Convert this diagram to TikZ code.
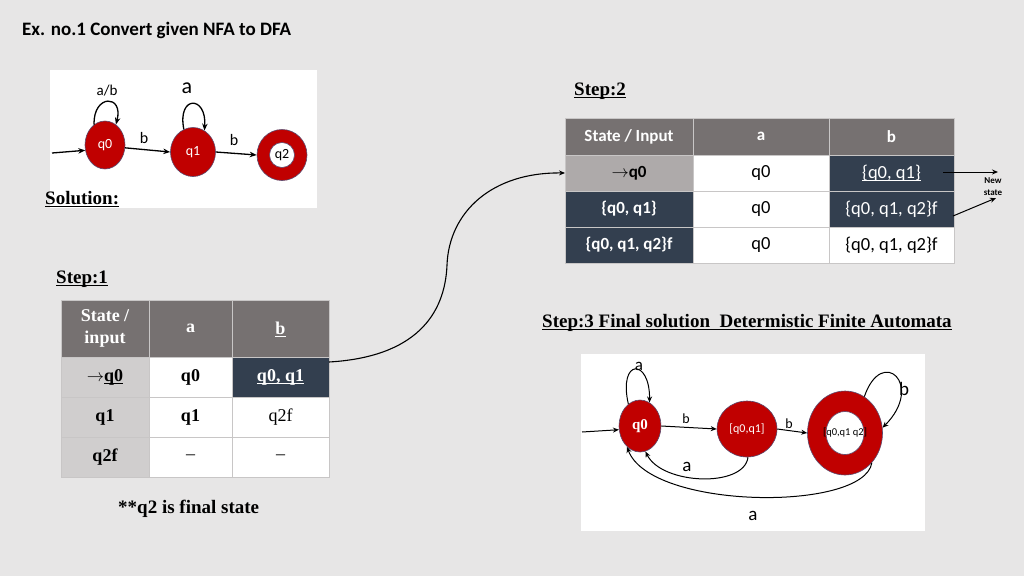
\documentclass[tikz,border=0pt]{standalone}
\usepackage{fontspec}
\setmainfont{Liberation Serif}
\newfontfamily\calfont{Carlito}
\usetikzlibrary{arrows.meta,shapes.geometric}
% thick underline that does not change the text box
\newcommand{\uln}[1]{\leavevmode\setbox0\hbox{#1}\rlap{\smash{\rule[-2.8pt]{\wd0}{1.1pt}}}\box0}
\definecolor{bgc}{HTML}{E7E6E6}
\definecolor{hdr}{HTML}{767171}
\definecolor{lgr}{HTML}{D0CECE}
\definecolor{mgr}{HTML}{AEAAAA}
\definecolor{navy}{HTML}{333F4F}
\definecolor{stred}{HTML}{C00000}
\definecolor{rim}{HTML}{5B4A6E}
\definecolor{gridc}{HTML}{C8C6C6}
\begin{document}
\begin{tikzpicture}[x=1pt,y=-1pt,
  cellbox/.style={draw=gridc, line width=0.8pt, inner sep=0pt, outer sep=0pt, align=center, fill=white},
  sercell/.style={cellbox, font=\fontsize{18}{22}\selectfont\bfseries},
  calcell/.style={cellbox, font=\calfont\fontsize{18.5}{21}\selectfont},
  calbold/.style={calcell, font=\calfont\bfseries\fontsize{17}{20}\selectfont},
  heading/.style={anchor=base west, inner sep=0pt, font=\fontsize{19}{22}\selectfont\bfseries},
  arr/.style={-{Stealth[length=7pt,width=5.5pt]}, line width=1.3pt},
  thinarr/.style={-{Stealth[length=6pt,width=5pt]}, line width=1pt},
  nst/.style={ellipse, fill=stred, draw=rim, line width=0.6pt, inner sep=0pt, text=white, font=\calfont\fontsize{14}{16}\selectfont},
  hole/.style={ellipse, fill=white, draw=rim, line width=0.6pt, inner sep=0pt},
  elab/.style={font=\calfont\fontsize{16}{18}\selectfont, inner sep=0pt}
]
% page background
\path[fill=bgc] (0,0) rectangle (1024,576);
\useasboundingbox (0,0) rectangle (1024,576);

% title
\node[anchor=base west, font=\calfont\bfseries\fontsize{19}{22}\selectfont, inner sep=0pt] (title) at (22,35) {Ex. no.1 Convert given NFA to DFA};

% ---------- given NFA ----------
\node[fill=white, minimum width=267pt, minimum height=138pt, inner sep=0pt, anchor=north west] (nfabox) at (50,70) {};
\node[nst, minimum width=40pt, minimum height=48pt] (q0) at (105,145) {q0};
\node[nst, minimum width=45pt, minimum height=49pt] (q1) at (193,152) {q1};
\node[nst, minimum width=50pt, minimum height=51pt] (q2) at (282,155) {};
\node[hole, minimum width=25pt, minimum height=25pt] (q2in) at (q2) {};
\node[inner sep=0pt, font=\calfont\fontsize{14}{16}\selectfont] (q2t) at (q2) {q2};
\coordinate (nin) at (52,153);
\draw[arr] (nin) -- (q0.195);
\draw[arr] (q0.-8) -- (q1.west);
\draw[arr] (q1.east) -- (q2.west);
\draw[arr] (q0.118) .. controls (93,94) and (124,94) .. (q0.62);
\draw[arr] (q1.112) .. controls (177,95) and (207,95) .. (q1.62);
\node[elab, font=\calfont\fontsize{15}{18}\selectfont] (lab1) at (107,91) {a/b};
\node[elab, font=\calfont\fontsize{22}{24}\selectfont] (lab2) at (187,88) {a};
\node[elab] (lab3) at (144,138) {b};
\node[elab] (lab4) at (234,140) {b};
\node[heading] (sol) at (45,204) {\uln{Solution:}};

% ---------- step 1 ----------
\node[heading] (s1) at (56,283) {\uln{Step:1}};
\node[sercell, fill=hdr, text=white, minimum width=88pt, minimum height=57pt] (t1h0) at (105,328.5) {State /\\input};
\node[sercell, fill=hdr, text=white, minimum width=83pt, minimum height=57pt] (t1ha) at (190.5,328.5) {a};
\node[sercell, fill=hdr, text=white, minimum width=97pt, minimum height=57pt] (t1hb) at (280.5,328.5) {\uln{b}};
\node[sercell, fill=lgr, minimum width=88pt, minimum height=40pt] (t1s1) at (105,377) {$\rightarrow$\uln{q0}};
\node[sercell, minimum width=83pt, minimum height=40pt] (t1a1) at (190.5,377) {q0};
\node[sercell, fill=navy, text=white, minimum width=97pt, minimum height=40pt] (t1b1) at (280.5,377) {\uln{q0, q1}};
\node[sercell, fill=lgr, minimum width=88pt, minimum height=40pt] (t1s2) at (105,417) {q1};
\node[sercell, minimum width=83pt, minimum height=40pt] (t1a2) at (190.5,417) {q1};
\node[sercell, font=\fontsize{18}{22}\selectfont, minimum width=97pt, minimum height=40pt] (t1b2) at (280.5,417) {q2f};
\node[sercell, fill=lgr, minimum width=88pt, minimum height=40pt] (t1s3) at (105,457) {q2f};
\node[sercell, font=\fontsize{18}{22}\selectfont, minimum width=83pt, minimum height=40pt] (t1a3) at (190.5,457) {--};
\node[sercell, font=\fontsize{18}{22}\selectfont, minimum width=97pt, minimum height=40pt] (t1b3) at (280.5,457) {--};
\node[heading] (note) at (118,513) {**q2 is final state};

% ---------- step 2 ----------
\node[heading] (s2) at (574,95) {\uln{Step:2}};
\node[calbold, fill=hdr, text=white, minimum width=128pt, minimum height=37pt] (t2h0) at (629,136.5) {State / Input};
\node[calbold, fill=hdr, text=white, minimum width=136pt, minimum height=37pt] (t2ha) at (761,136.5) {a};
\node[calbold, fill=hdr, text=white, minimum width=125pt, minimum height=37pt] (t2hb) at (891.5,136.5) {b};
\node[calbold, fill=mgr, minimum width=128pt, minimum height=36pt] (t2s1) at (629,173) {$\rightarrow$q0};
\node[calcell, minimum width=136pt, minimum height=36pt] (t2a1) at (761,173) {q0};
\node[calcell, fill=navy, text=white, minimum width=125pt, minimum height=36pt] (t2b1) at (891.5,173) {\uln{\{q0, q1\}}};
\node[calbold, fill=navy, text=white, minimum width=128pt, minimum height=36pt] (t2s2) at (629,209) {\{q0, q1\}};
\node[calcell, minimum width=136pt, minimum height=36pt] (t2a2) at (761,209) {q0};
\node[calcell, fill=navy, text=white, minimum width=125pt, minimum height=36pt] (t2b2) at (891.5,209) {\{q0, q1, q2\}f};
\node[calbold, fill=navy, text=white, minimum width=128pt, minimum height=36pt] (t2s3) at (629,245) {\{q0, q1, q2\}f};
\node[calcell, minimum width=136pt, minimum height=36pt] (t2a3) at (761,245) {q0};
\node[calcell, minimum width=125pt, minimum height=36pt] (t2b3) at (891.5,245) {\{q0, q1, q2\}f};

% "New state" pointers
\node[align=center, inner sep=0pt, font=\calfont\bfseries\fontsize{9}{12}\selectfont] (newst) at (993,187) {New\\state};
\coordinate (ns1s) at (943,172);
\coordinate (ns1e) at (998,172);
\coordinate (ns2s) at (953,216);
\coordinate (ns2e) at (996,198);
\draw[thinarr] (ns1s) -- (ns1e);
\draw[thinarr] (ns2s) -- (ns2e);

% link from step 1 to step 2
\draw[thinarr, line width=1.1pt] ([yshift=15pt]t1b1.east) .. controls (415,357) and (445,315) .. (447,265)
   .. controls (449,212) and (492,172) .. (t2s1.west);

% ---------- step 3 ----------
\node[heading] (s3) at (542,327) {\uln{Step:3 Final solution\ \ Determistic Finite Automata}};
\node[fill=white, minimum width=344pt, minimum height=177pt, inner sep=0pt, anchor=north west] (dfabox) at (581,354) {};
\node[nst, minimum width=42pt, minimum height=52pt, font=\fontsize{15}{17}\selectfont\bfseries] (d0) at (640,426) {q0};
\node[nst, minimum width=60pt, minimum height=56pt, font=\calfont\fontsize{12}{14}\selectfont] (d1) at (747,429) {[q0,q1]};
\node[nst, minimum width=75pt, minimum height=84pt] (d2) at (845,433) {};
\node[hole, minimum width=38pt, minimum height=43pt] (d2in) at (d2) {};
\node[inner sep=0pt, font=\calfont\fontsize{10.5}{12}\selectfont] (d2t) at (d2) {[q0,q1 q2]};
\coordinate (din) at (582,432);
\draw[thinarr] (din) -- (d0.190);
\draw[thinarr] (d0.east) -- (d1.west);
\draw[thinarr] (d1.east) -- (d2.west);
\draw[thinarr] (d0.118) .. controls (618,358) and (650,358) .. (d0.68);
\draw[thinarr] (d2.62) .. controls (882,345) and (925,385) .. (d2.8);
\draw[thinarr] (d1.272) .. controls (744,488) and (662,485) .. (d0.282);
\draw[thinarr] (d2.312) .. controls (864,512) and (650,510) .. (d0.238);
\node[elab, font=\calfont\fontsize{17}{19}\selectfont] (la1) at (639,366) {a};
\node[elab, font=\calfont\fontsize{14}{16}\selectfont] (la2) at (686,419) {b};
\node[elab, font=\calfont\fontsize{14}{16}\selectfont] (la3) at (789,424) {b};
\node[elab, font=\calfont\fontsize{19}{21}\selectfont] (la4) at (904,389) {b};
\node[elab, font=\calfont\fontsize{19}{21}\selectfont] (la5) at (687,467) {a};
\node[elab, font=\calfont\fontsize{19}{21}\selectfont] (la6) at (753,516) {a};
\end{tikzpicture}
\end{document}
